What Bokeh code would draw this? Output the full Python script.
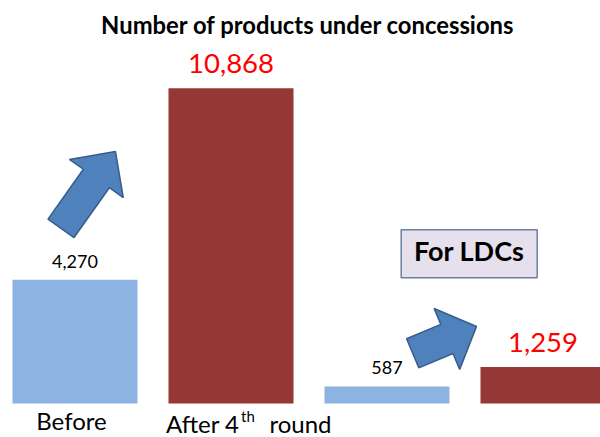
import numpy as np
from bokeh.plotting import figure
from bokeh.models import Range1d, ColumnDataSource, Label
from bokeh.core.properties import value
from bokeh.embed import file_html
from bokeh.resources import INLINE

# ---- data ----
groups = ["All members", "LDCs"]
stages = ["Before", "After 4th round"]
all_products = [4270, 10868]
ldc_products = [587, 1259]
title_text = "Number of products under concessions"
box_text = "For LDCs"

BEFORE_COLOR = "#8DB3E2"
AFTER_COLOR = "#953735"
ARROW_FILL = "#4F81BD"
ARROW_LINE = "#385D8A"
FONT = "Lato"

W, H = 600, 437
PX_X = 156.0          # pixels per bar slot
PX_Y = 0.029          # pixels per product
X0 = 74.5             # canvas x of first bar centre
BASE = 403.0          # canvas y of baseline (from top)

x_start = -X0 / PX_X
x_end = x_start + W / PX_X
y_end = BASE / PX_Y
y_start = -(H - BASE) / PX_Y

p = figure(width=W, height=H, output_backend="svg", toolbar_location=None,
           x_range=Range1d(x_start, x_end), y_range=Range1d(y_start, y_end),
           min_border=0, outline_line_color=None)
p.axis.visible = False
p.grid.visible = False
p.background_fill_color = "white"
p.border_fill_color = "white"

# bars
xs = [0, 1, 2, 3]
vals = all_products + ldc_products
cols = [BEFORE_COLOR, AFTER_COLOR, BEFORE_COLOR, AFTER_COLOR]
src = ColumnDataSource(dict(x=xs, top=vals, color=cols))
p.vbar(x="x", top="top", bottom=0, width=125 / PX_X, color="color",
       line_color=None, source=src)

# value labels
before_idx = [0, 2]
after_idx = [1, 3]
sb = ColumnDataSource(dict(x=[xs[i] for i in before_idx], y=[vals[i] for i in before_idx],
                           t=[f"{vals[i]:,}" for i in before_idx]))
sa = ColumnDataSource(dict(x=[xs[i] for i in after_idx], y=[vals[i] for i in after_idx],
                           t=[f"{vals[i]:,}" for i in after_idx]))
p.text(x="x", y="y", text="t", source=sb, text_font=value(FONT), text_font_size="18px",
       text_color="black", text_align="center", text_baseline="alphabetic", y_offset=-18.5)
p.text(x="x", y="y", text="t", source=sa, text_font=value(FONT), text_font_size="27.5px",
       text_color="#FF0000", text_align="center", text_baseline="alphabetic", y_offset=-24.5)

# category labels
p.text(x=[0], y=[0], text=[stages[0]], text_font=value(FONT), text_font_size="24px",
       text_color="black", text_align="center", text_baseline="alphabetic",
       x_offset=-3.5, y_offset=16.5)
head, tail = stages[1].split("th", 1)
p.text(x=[1], y=[0], text=[head], text_font=value(FONT), text_font_size="24px",
       text_color="black", text_align="right", text_baseline="alphabetic",
       x_offset=8.5, y_offset=20)
p.text(x=[1], y=[0], text=["th"], text_font=value(FONT), text_font_size="15px",
       text_color="black", text_align="left", text_baseline="alphabetic",
       x_offset=10, y_offset=12)
p.text(x=[1], y=[0], text=[tail.strip()], text_font=value(FONT), text_font_size="24px",
       text_color="black", text_align="left", text_baseline="alphabetic",
       x_offset=38.5, y_offset=20)

# title
p.add_layout(Label(x=(307.5 - X0) / PX_X, y=(BASE - 24.3) / PX_Y, text=title_text,
                   text_font=FONT, text_font_style="bold", text_font_size="23.8px",
                   text_align="center", text_baseline="alphabetic", text_color="black"))

# helpers: canvas px -> data
def to_data(px, py):
    return (np.asarray(px) - X0) / PX_X, (BASE - np.asarray(py)) / PX_Y

def arrow(tail, tip, shaft_w, head_w, head_len):
    t = np.array(tail, float); k = np.array(tip, float)
    d = k - t; L = np.hypot(*d); d /= L
    n = np.array([-d[1], d[0]])
    b = k - head_len * d
    pts = [t + n * shaft_w / 2, b + n * shaft_w / 2, b + n * head_w / 2, k,
           b - n * head_w / 2, b - n * shaft_w / 2, t - n * shaft_w / 2]
    pts = np.array(pts)
    return to_data(pts[:, 0], pts[:, 1])

a1 = arrow((60.5, 227.8), (115, 151), 31.9, 66, 33.1)
a2 = arrow((412.2, 352.8), (476, 326), 31.5, 66, 32.1)
p.patches(xs=[list(a1[0]), list(a2[0])], ys=[list(a1[1]), list(a2[1])],
          fill_color=ARROW_FILL, line_color=ARROW_LINE, line_width=1.5)

# "For LDCs" box
bx, by = to_data(468.7, 253.2)
p.rect(x=[bx], y=[by], width=136, height=48, width_units="screen", height_units="screen",
       fill_color="#E6E0EC", line_color="#6B7FA3", line_width=1.5)
p.text(x=[bx], y=[by], text=[box_text], text_font=value(FONT), text_font_size="27px",
       text_font_style="bold", text_color="black", text_align="center",
       text_baseline="middle", y_offset=-3)

open("out.html", "w").write(file_html(p, INLINE))
